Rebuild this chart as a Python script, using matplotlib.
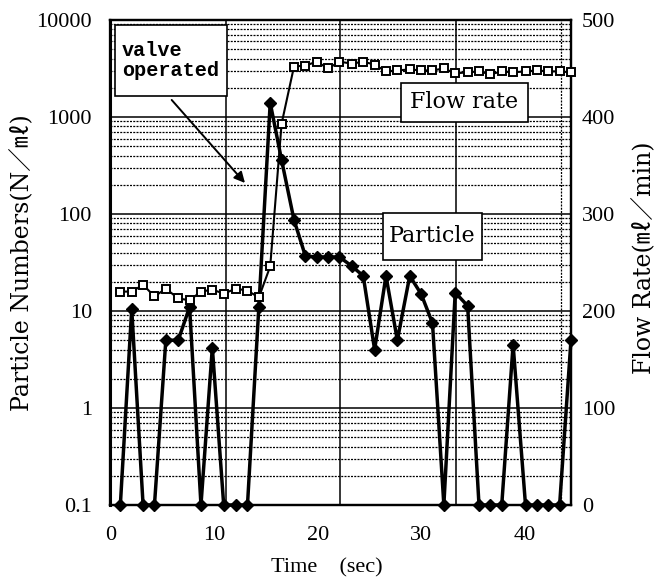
import matplotlib
matplotlib.use("Agg")
import matplotlib.pyplot as plt
from matplotlib.patches import Rectangle

# sampling times (sec)
time_s = [0.9, 2.0, 3.1, 4.2, 5.3, 6.5, 7.6, 8.7, 9.8, 10.9,
          12.1, 13.2, 14.3, 15.4, 16.5, 17.7, 18.8, 19.9, 21.0, 22.1,
          23.3, 24.4, 25.5, 26.6, 27.7, 28.9, 30.0, 31.1, 32.2, 33.3,
          34.5, 35.6, 36.7, 37.8, 38.9, 40.1, 41.2, 42.3, 43.4, 44.5]

# particle numbers (N/ml), 0.1 = none detected
particles = [0.1, 10.5, 0.1, 0.1, 5.0, 5.0, 11, 0.1, 4.2, 0.1,
             0.1, 0.1, 11, 1400, 360, 87, 37, 36, 36, 36,
             29, 23, 4.0, 23, 5.0, 23, 15, 7.5, 0.1, 15.5,
             11.3, 0.1, 0.1, 0.1, 4.5, 0.1, 0.1, 0.1, 0.1, 5.0]

# flow rate (ml/min)
flow = [220, 220, 227, 215, 223, 213, 211, 220, 222, 218,
        223, 221, 214, 246, 393, 452, 453, 457, 450, 457,
        455, 457, 454, 447, 448, 449, 448, 448, 450, 445,
        446, 447, 444, 447, 446, 447, 448, 447, 447, 446]

x_ticks = [0, 10, 20, 30, 40]
left_ticks = [0.1, 1, 10, 100, 1000, 10000]
left_labels = ["0.1", "1", "10", "100", "1000", "10000"]
right_ticks = [0, 100, 200, 300, 400, 500]
vgrid = [11.1, 22.2, 33.4]

plt.rcParams["font.family"] = ["Liberation Serif", "Noto Sans CJK JP"]
plt.rcParams["font.size"] = 16

fig = plt.figure(figsize=(6.56, 5.79), dpi=100)
ax = fig.add_axes([0.1677, 0.1278, 0.7027, 0.8377])
ax2 = ax.twinx()

ax.set_yscale("log")
ax.set_ylim(0.1, 10000)
ax.set_xlim(-0.1, 44.5)
ax2.set_ylim(0, 500)

# grid
ax.grid(True, which="major", axis="y", color="black", lw=1.1)
ax.grid(True, which="minor", axis="y", color="black", lw=0.9, ls=(0, (1.6, 1.0)))
for v in vgrid:
    ax.axvline(v, color="black", lw=1.1, zorder=1)
ax.axvline(43.5, color="black", lw=0.9, ls=(0, (1.6, 1.0)), zorder=1)

ax.plot(time_s, particles, color="black", lw=2.5, marker="D", ms=6.5,
        mfc="black", mec="black", clip_on=False, zorder=3)
ax2.plot(time_s, flow, color="black", lw=1.5, marker="s", ms=5.5,
         mfc="white", mec="black", mew=1.4, clip_on=False, zorder=3)

ax.set_xticks(x_ticks)
ax.set_xticklabels([str(t) for t in x_ticks])
ax.set_yticks(left_ticks)
ax.set_yticklabels(left_labels)
ax.yaxis.set_minor_formatter(plt.NullFormatter())
ax2.set_yticks(right_ticks)
ax2.set_yticklabels([str(t) for t in right_ticks])

ax.tick_params(axis="x", length=0, pad=15, labelsize=16)
ax.tick_params(axis="y", which="both", length=0, pad=13, labelsize=16)
ax2.tick_params(axis="y", length=0, pad=8, labelsize=16)

for a in (ax, ax2):
    for s in a.spines.values():
        s.set_linewidth(1.6)
ax.spines["left"].set_linewidth(2.2)

ax.set_xlabel("Time\u3000(sec)", fontsize=16)
ax.xaxis.set_label_coords(0.47, -0.11)
ax.set_ylabel("Particle Numbers(N\uff0f\u3396)", fontsize=17,
              family=["DejaVu Serif", "Noto Sans CJK JP"])
ax.yaxis.set_label_coords(-0.165, 0.5)
ax2.set_ylabel("Flow Rate(\u3396\uff0fmin)", fontsize=17,
               family=["DejaVu Serif", "Noto Sans CJK JP"])
ax2.yaxis.set_label_coords(1.134, 0.51)

# annotation boxes
def box(x0, y0, x1, y1):
    ax2.add_patch(Rectangle((x0, y0), x1 - x0, y1 - y0, transform=ax2.transAxes,
                            facecolor="white", edgecolor="black", lw=1.2,
                            zorder=5, clip_on=False))

box(0.0108, 0.8433, 0.2538, 0.9897)
ax2.text(0.026, 0.9165, "valve\noperated", transform=ax2.transAxes,
         ha="left", va="center", fontsize=14.5, linespacing=1.1,
         family="Liberation Mono", weight="bold", zorder=6)

box(0.6306, 0.7903, 0.9067, 0.8695)
ax2.text(0.7686, 0.8299, "Flow rate", transform=ax2.transAxes,
         ha="center", va="center", fontsize=16, family="DejaVu Serif", zorder=6)

box(0.5922, 0.5052, 0.8063, 0.6021)
ax2.text(0.6992, 0.5536, "Particle", transform=ax2.transAxes,
         ha="center", va="center", fontsize=16, family="DejaVu Serif", zorder=6)

ax2.annotate("", xy=(0.2928, 0.6639), xytext=(0.1338, 0.8351),
             xycoords="axes fraction", textcoords="axes fraction",
             arrowprops=dict(arrowstyle="-|>", lw=1.4, color="black",
                             mutation_scale=16, shrinkA=0, shrinkB=0),
             zorder=6)

fig.savefig("out.png", dpi=100)
